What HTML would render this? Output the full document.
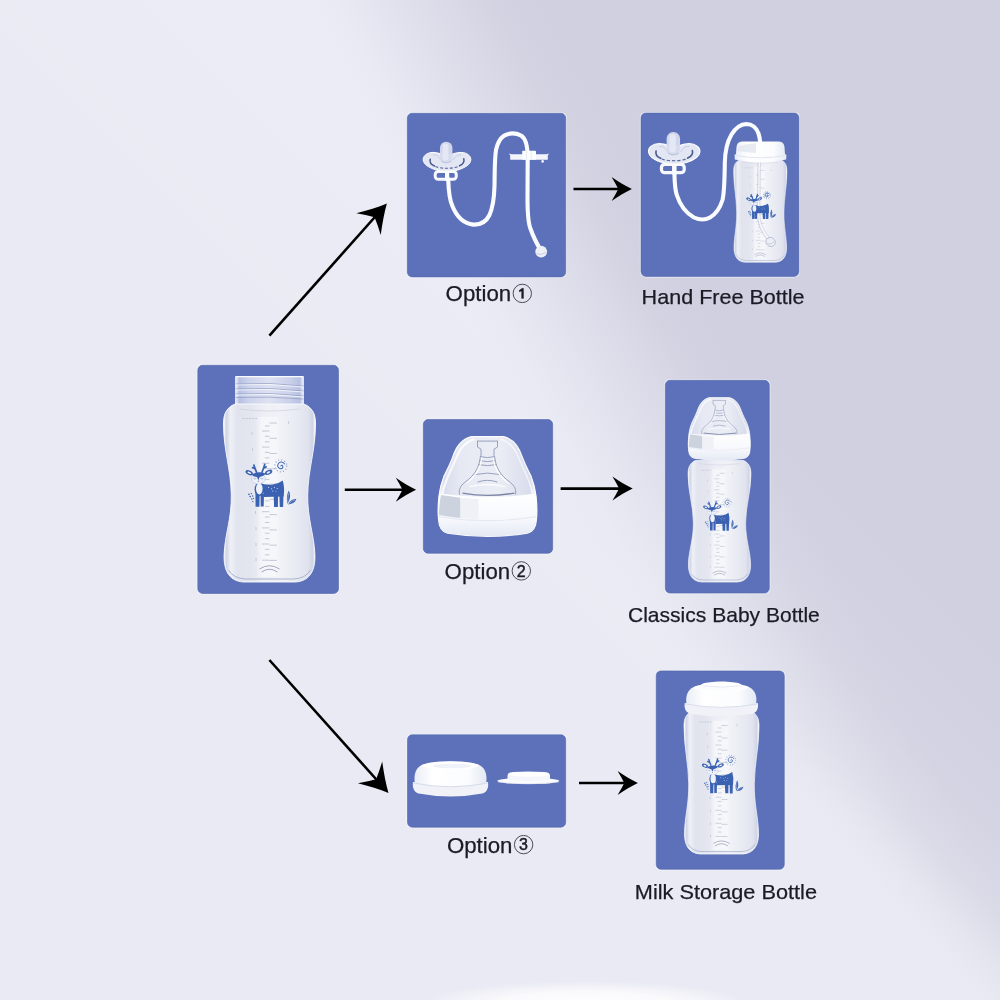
<!DOCTYPE html>
<html>
<head>
<meta charset="utf-8">
<title>Bottle options</title>
<style>
html,body{margin:0;padding:0;width:1000px;height:1000px;overflow:hidden;background:#ebebf5;}
svg{display:block;position:absolute;left:0;top:0;}
text{font-family:"Liberation Sans",sans-serif;fill:#1b1b26;}
</style>
</head>
<body>
<svg width="1000" height="1000" viewBox="0 0 1000 1000">
<defs>
  <linearGradient id="bg1" gradientUnits="userSpaceOnUse" x1="242" y1="-126" x2="423" y2="-220">
    <stop offset="0" stop-color="#ececf6"/>
    <stop offset="0.12" stop-color="#eaeaf5"/>
    <stop offset="0.45" stop-color="#dfdfec"/>
    <stop offset="0.8" stop-color="#d3d3e2"/>
    <stop offset="1" stop-color="#d0d0e0"/>
  </linearGradient>
  <linearGradient id="bg2" gradientUnits="userSpaceOnUse" x1="990" y1="642" x2="792" y2="840">
    <stop offset="0" stop-color="#e9e9f3" stop-opacity="0"/>
    <stop offset="0.45" stop-color="#e9e9f3" stop-opacity="0.14"/>
    <stop offset="0.66" stop-color="#e9e9f3" stop-opacity="0.38"/>
    <stop offset="0.8" stop-color="#ebebf4" stop-opacity="0.72"/>
    <stop offset="0.9" stop-color="#ebebf4" stop-opacity="0.9"/>
    <stop offset="1" stop-color="#eaeaf4" stop-opacity="1"/>
  </linearGradient>
  <radialGradient id="bg3" cx="0.5" cy="0.5" r="0.5">
    <stop offset="0" stop-color="#ffffff" stop-opacity="1"/>
    <stop offset="0.55" stop-color="#ffffff" stop-opacity="0.75"/>
    <stop offset="1" stop-color="#ffffff" stop-opacity="0"/>
  </radialGradient>

  <!-- GLASS GRADIENTS -->
  <linearGradient id="glass" x1="0" y1="0" x2="1" y2="0">
    <stop offset="0" stop-color="#ffffff"/>
    <stop offset="0.03" stop-color="#cfd4e6"/>
    <stop offset="0.075" stop-color="#eef0f6"/>
    <stop offset="0.15" stop-color="#e1e4ee"/>
    <stop offset="0.3" stop-color="#e3e6ef"/>
    <stop offset="0.44" stop-color="#edeff5"/>
    <stop offset="0.62" stop-color="#f0f2f7"/>
    <stop offset="0.8" stop-color="#e8eaf2"/>
    <stop offset="0.92" stop-color="#e0e3ee"/>
    <stop offset="0.97" stop-color="#cfd4e6"/>
    <stop offset="1" stop-color="#ffffff"/>
  </linearGradient>
  <linearGradient id="strip" x1="0" y1="0" x2="1" y2="0">
    <stop offset="0" stop-color="#ffffff" stop-opacity="0"/>
    <stop offset="0.2" stop-color="#ffffff" stop-opacity="0.45"/>
    <stop offset="0.8" stop-color="#ffffff" stop-opacity="0.45"/>
    <stop offset="1" stop-color="#ffffff" stop-opacity="0"/>
  </linearGradient>
  <linearGradient id="neckg" x1="0" y1="0" x2="1" y2="0">
    <stop offset="0" stop-color="#f4f6fc"/>
    <stop offset="0.06" stop-color="#b7c0e2"/>
    <stop offset="0.2" stop-color="#cdd3ec"/>
    <stop offset="0.5" stop-color="#dde1f2"/>
    <stop offset="0.8" stop-color="#cad0ea"/>
    <stop offset="0.94" stop-color="#b7c0e2"/>
    <stop offset="1" stop-color="#f4f6fc"/>
  </linearGradient>
  <!-- DEER (main coords, origin shifted to bottle-local) -->
  <g id="deer" transform="translate(-269.5 -405)">
    <g fill="#3b62b2" stroke="none">
      <ellipse cx="249.200" cy="472.700" rx="3.900" ry="2.200" transform="rotate(24 249.2 472.7)"/>
      <ellipse cx="268.600" cy="472.300" rx="3.900" ry="2.200" transform="rotate(-24 268.6 472.3)"/>
      <ellipse cx="259.300" cy="489.200" rx="4.700" ry="6.800"/>
      <path d="M261.500 483.600 Q267 485.400 273 484.600 Q279 483.600 282.700 480.600 Q285 488 283.600 496.600 L264 497 Z"/>
      <path d="M255.400 492h4.300l-0.300 14.700h-3.800z M260.500 494h3.500l-0.300 12.500h-3z M273.600 494h4.500l-0.200 12.900h-3.800z M279.300 494h4.200l-0.400 13.100h-3.300z"/>
      <path d="M287.600 504 Q285.600 497 288.800 490.600 Q291.800 497 287.600 504Z"/>
      <path d="M288.200 504.400 Q290.500 499.200 296.400 498.800 Q295 503.800 288.200 504.400Z"/>
      <circle cx="249" cy="494.400" r="0.800"/><circle cx="251.400" cy="493.600" r="0.700"/><circle cx="250.200" cy="496.600" r="0.800"/>
      <circle cx="252.600" cy="496" r="0.700"/><circle cx="251.800" cy="499" r="0.800"/><circle cx="253.600" cy="498.400" r="0.600"/><circle cx="252.800" cy="501.600" r="0.700"/>
    </g>
    <g fill="none" stroke="#3b62b2" stroke-width="1.700" stroke-linecap="round">
      <path d="M256.500 472.200 Q254.900 468.500 253.900 465 M255.200 468.600 L252.600 467.600 M262 472.200 Q263.500 468.500 264.700 464.400 M263.600 468.200 L266.200 466.800"/>
    </g>
    <ellipse cx="258.400" cy="478.600" rx="6.900" ry="5.300" fill="#eff1f8" stroke="#a9bce2" stroke-width="0.500"/>
    <path d="M251.600 474.400 Q258.600 470.600 266 473.800 Q263.200 476.600 259.700 477 L258.300 480.200 L257 477 Q253.400 476.800 251.600 474.400Z" fill="#3b62b2"/>
    <g fill="none" stroke="#4b70bb" stroke-width="0.450">
      <path d="M253.300 478.400 q1.500 1.100 3 0 M260.300 478.400 q1.500 1.100 3 0"/>
    </g>
    <circle cx="258.300" cy="481.200" r="0.600" fill="#7b6a9a"/>
    <g fill="none" stroke="#4268b6" stroke-width="1.050">
      <path d="M280.900 466.300 a0.900 0.900 0 0 1 1.300 -1 a2 2 0 0 1 0 3 a3 3 0 0 1 -4.200 -1.200 a3.600 3.600 0 0 1 2.800 -5 a4 4 0 0 1 4 2.200"/>
      <circle cx="280.800" cy="465.800" r="6" stroke-width="1.300" stroke-dasharray="0.700 2.440" opacity="0.800"/>
    </g>
    <g fill="#eff1f8">
      <ellipse cx="249.300" cy="472.800" rx="2" ry="0.900" transform="rotate(24 249.3 472.8)"/>
      <ellipse cx="268.500" cy="472.400" rx="2" ry="0.900" transform="rotate(-24 268.5 472.400)"/>
      <ellipse cx="259.300" cy="488.800" rx="3.300" ry="5.700"/>
      <circle cx="268.600" cy="487.600" r="0.500"/><circle cx="271.600" cy="488.800" r="0.500"/><circle cx="274.400" cy="487.200" r="0.500"/><circle cx="277.200" cy="488.600" r="0.500"/><circle cx="272.800" cy="491" r="0.500"/><circle cx="276" cy="491.200" r="0.450"/>
    </g>
    <path d="M287.800 502 Q287.600 497 288.800 493 M289.500 503.400 Q292 500.600 295 499.600" fill="none" stroke="#dfe5f5" stroke-width="0.450"/>
  </g>
  <!-- SCALE TICKS (bottle-local) -->
  <g id="ticks" stroke="#a9aec2" stroke-width="0.8" fill="none" opacity="0.8">
    <path d="M-7.5 26.0h7.4 M-4.6 31.3h4.6 M-4.6 36.8h4.6 M-7.5 42.1h7.4 M-4.6 47.4h4.6 M-4.6 52.9h4.6 M-7.5 58.3h7.4 M-4.6 63.6h4.6 M-4.6 69.1h4.6 M-7.5 74.4h7.4 M-4.6 79.7h4.6 M-4.6 85.2h4.6 M-7.5 90.6h7.4 M-4.6 95.9h4.6 M-4.6 101.4h4.6 M-7.5 106.7h7.4 M-4.6 112.0h4.6 M-4.6 117.5h4.6 M-7.5 122.9h7.4 M-4.6 128.2h4.6 M-4.6 133.7h4.6 M-7.5 139.0h7.4 M-4.6 144.3h4.6 M-4.6 149.8h4.6 M-7.5 155.2h7.4 M0 18.0h7.4 M0 33.3h7.4 M0 48.5h7.4 M0 63.8h7.4 M0 79.1h7.4 M0 94.3h7.4 M0 109.6h7.4 M0 124.9h7.4 M0 140.2h7.4 M0 155.4h7.4 M-4.6 21.0h4.6"/>
    <path d="M-10 164 Q0 157.500 10 164 M-8 167 Q0 161.500 8 167" stroke="#7f88a6" stroke-width="0.9"/>
    <path d="M-27 13.500h16" stroke-width="1.1" stroke-dasharray="2 1.2" opacity="0.7"/>
    <path d="M-17.5 27v3 M-17 43v3 M-14 106v3 M-13.500 122v3 M-13.500 138v3 M-13.500 153v3 M19 16v3" stroke-width="0.8" opacity="0.8"/>
  </g>
  <!-- BOTTLE BODY only (bottle-local: x center 0, y=0 at neck bottom, body 91 wide x 177 tall) -->
  <g id="bodyin">
    <rect x="-13.500" y="12" width="24.500" height="160" fill="url(#strip)"/>
    <path d="M-41 165 Q-36 173.500 -24 174 L24 174 Q36 173.500 41 165" fill="none" stroke="#8e99bd" stroke-width="0.9" opacity="0.75"/>
    <path d="M-30 4 Q0 8 30 4" fill="none" stroke="#c9cede" stroke-width="0.8" opacity="0.8"/>
    <use href="#ticks"/>
    <use href="#deer"/>
  </g>
  <g id="body">
    <path d="M-34.3 -1 C-39 0.5 -43 4.5 -44.6 9 C-45.6 12 -46 15 -46 19 C-46 45 -38.6 64 -38.2 90 C-37.8 114 -44.8 130 -45.4 150 C-45.8 163 -42 176 -26 177 L26 177 C42 176 45.8 163 45.4 150 C44.8 130 37.8 114 38.2 90 C38.6 64 46 45 46 19 C46 15 45.6 12 44.6 9 C43 4.5 39 0.5 34.3 -1 Z" fill="url(#glass)" stroke="#f9fafd" stroke-width="0.9"/>
    <use href="#bodyin"/>
  </g>
  <g id="bodyM">
    <path d="M-34.3 -1 C-39 0.5 -43 4.5 -44.6 9 C-45.6 12 -46 15 -46 19 C-46 45 -40.6 64 -40.2 90 C-39.8 114 -44.8 130 -45.4 150 C-45.8 163 -42 176 -26 177 L26 177 C42 176 45.8 163 45.4 150 C44.8 130 39.8 114 40.2 90 C40.6 64 46 45 46 19 C46 15 45.6 12 44.6 9 C43 4.5 39 0.5 34.3 -1 Z" fill="url(#glass)" stroke="#f9fafd" stroke-width="0.9"/>
    <use href="#bodyin"/>
  </g>
  <g id="bodyH">
    <path d="M-34.3 -1 C-39 0.5 -43 4.5 -44.6 9 C-45.6 12 -46 15 -46 19 C-46 45 -41.2 64 -40.8 90 C-40.4 114 -44.8 130 -45.4 150 C-45.8 163 -42 176 -26 177 L26 177 C42 176 45.8 163 45.4 150 C44.8 130 40.4 114 40.8 90 C41.2 64 46 45 46 19 C46 15 45.6 12 44.6 9 C43 4.5 39 0.5 34.3 -1 Z" fill="url(#glass)" stroke="#f9fafd" stroke-width="0.9"/>
    <use href="#bodyin"/>
  </g>
  <!-- OPEN NECK -->
  <g id="neck">
    <rect x="-34.4" y="-29" width="68.8" height="30" rx="1.5" fill="url(#neckg)"/>
    <path d="M-34 -28.3h68" stroke="#fff" stroke-width="1.3" opacity="0.9"/>
    <path d="M-34 -21 Q0 -23 34 -19 M-34 -16 Q0 -18 34 -14 M-34 -11 Q0 -13 34 -9 M-34 -7.500 Q0 -9 34 -6" fill="none" stroke="#8f9abf" stroke-width="0.8" opacity="0.85"/>
    <path d="M-34 -20 Q0 -22 34 -18 M-34 -15 Q0 -17 34 -13 M-34 -10 Q0 -12 34 -8" fill="none" stroke="#fff" stroke-width="0.8" opacity="0.9"/>
  </g>

  <!-- WHITE PLASTIC GRADIENTS -->
  <linearGradient id="wv" x1="0" y1="0" x2="0" y2="1">
    <stop offset="0" stop-color="#ffffff"/>
    <stop offset="0.6" stop-color="#f6f8fc"/>
    <stop offset="1" stop-color="#e4e9f3"/>
  </linearGradient>
  <linearGradient id="wh" x1="0" y1="0" x2="1" y2="0">
    <stop offset="0" stop-color="#e9edf6"/>
    <stop offset="0.25" stop-color="#ffffff"/>
    <stop offset="0.75" stop-color="#fbfcfe"/>
    <stop offset="1" stop-color="#e3e8f3"/>
  </linearGradient>
  <linearGradient id="domeg" x1="0" y1="0" x2="1" y2="0">
    <stop offset="0" stop-color="#ffffff"/>
    <stop offset="0.06" stop-color="#d9ddec"/>
    <stop offset="0.22" stop-color="#e6e9f3"/>
    <stop offset="0.6" stop-color="#eceef6"/>
    <stop offset="0.93" stop-color="#d9ddec"/>
    <stop offset="1" stop-color="#ffffff"/>
  </linearGradient>
  <!-- PACIFIER (local: shield center 0,0; 48 wide) -->
  <g id="paci">
    <rect x="-11.800" y="9.500" width="21.100" height="7.800" rx="3" fill="none" stroke="#f7f8fd" stroke-width="3"/>
    <path d="M0.100 8.500v10.500" stroke="#fbfcff" stroke-width="4.200"/>
    <path d="M0 -6 C-4 -7.500 -9 -9.600 -14 -9.600 C-20 -9.600 -24.200 -6 -23.800 -2 C-23.400 2.500 -18 5.500 -12 7.600 C-7 9.200 -3 9.700 0 9.700 C3 9.700 7 9.200 12 7.600 C18 5.500 23.400 2.500 23.800 -2 C24.200 -6 20 -9.600 14 -9.600 C9 -9.600 4 -7.500 0 -6Z" fill="#eef0f8" fill-opacity="0.93" stroke="#ffffff" stroke-width="1"/>
    <path d="M-16.800 -2.800 C-17.600 0.500 -15.500 2.800 -12.500 4 M16.800 -3.200 C17.600 0 15.500 2.500 12.500 3.800" fill="none" stroke="#4a598f" stroke-width="1.500" stroke-linecap="round"/>
    <path d="M-11.500 4.600 C-6 6.800 6 6.800 11.500 4.400" fill="none" stroke="#4a598f" stroke-width="1.100" stroke-dasharray="3 1.800" opacity="0.9"/>
    <path d="M-14 -7 C-10 -7.500 -8 -5 -6 -2 M14 -7 C10 -7.500 8 -5 6 -2" fill="none" stroke="#c3cae0" stroke-width="0.900"/>
    <rect x="-7" y="-20.300" width="12.400" height="21.500" rx="6" fill="#d6dbed" fill-opacity="0.96"/>
    <rect x="-4.500" y="-18.500" width="6" height="17" rx="3" fill="#e6e9f5" fill-opacity="0.9"/>
    <path d="M-6 -1 Q-0.800 2.500 4.500 -1" fill="none" stroke="#b6bed8" stroke-width="0.900"/>
  </g>
  <!-- LID CAP (local: center x 0, top y 0; 75 wide x 37 tall) -->
  <g id="lid">
    <path d="M-37.500 22 C-38.200 27 -37 32 -32 33.500 Q0 39.500 32 33.500 C37 32 38.200 27 37.500 22Z" fill="#f0f2f8"/>
    <path d="M-35.500 24 C-37 16 -35.500 8 -28 4.500 Q0 -1.500 28 4.500 C35.500 8 37 16 35.500 24 Q0 30.500 -35.500 24Z" fill="url(#wh)"/>
    <path d="M-37 23 Q0 30.500 37 23" fill="none" stroke="#d5dbe9" stroke-width="1"/>
    <ellipse cx="0" cy="5.500" rx="28" ry="4.200" fill="#ffffff"/>
    <ellipse cx="1.500" cy="6" rx="19" ry="2.300" fill="#eff2f8"/>
  </g>
  <g id="lidtop">
    <path d="M-22.500 7 C-23 1.500 -19 -0.800 0 -1.200 C19 -0.800 23 1.500 22.500 7 Q0 11 -22.500 7Z" fill="#fbfcfe"/>
    <ellipse cx="0" cy="2.600" rx="20" ry="2.600" fill="#ffffff"/>
    <path d="M-19 3.500 Q0 6.500 19 3.500" fill="none" stroke="#e2e7f1" stroke-width="0.900"/>
  </g>

  <!-- DOME (local: center x 0, top y 0; 98 wide x 100 tall) -->
  <g id="dome">
    <path d="M-16 0 L16 0 C27 2.500 32.500 13 35 21 C38.500 30 41.500 35 43.700 40 C46.500 47 48 54 48.600 60 C49.600 70 49.600 76 49 82 C48.500 91 46 95 40 96.500 Q0 103 -40 96.500 C-46 95 -48.500 91 -49 82 C-49.600 76 -49.600 70 -48.600 60 C-48 54 -46.500 47 -43.700 40 C-41.500 35 -38.500 30 -35 21 C-32.500 13 -27 2.500 -16 0Z" fill="url(#domeg)" stroke="#fafbfe" stroke-width="1.200"/>
    <path d="M-13 2.500 C-25 6 -29 16 -32 23 C-37 35 -43 45 -45 57" fill="none" stroke="#ffffff" stroke-width="2.200" opacity="0.75"/>
    <path d="M13 2.500 C25 6 29 16 32 23 C37 35 43 45 45 57" fill="none" stroke="#ffffff" stroke-width="1.600" opacity="0.6"/>
    <g fill="none" stroke="#8690ae" stroke-width="0.900" opacity="0.9">
      <path d="M-10.500 4.500 h21 M-10 4.500 v6 l3.500 2 v7 M10 4.500 v6 l-3.500 2 v7"/>
      <path d="M-7 20 Q0 22 7 20 M-8 24 Q0 26 8 24 M-9 28 Q0 30 9 28"/>
      <path d="M-7 19.500 C-8.500 31 -12 38 -23 46 C-27 49 -29 53 -28 58"/>
      <path d="M7 19.500 C8.500 31 12 38 23 46 C27 49 29 53 28 58"/>
      <path d="M-13 38 Q0 35 13 38 M-10 45.500 Q0 42 10 45.500"/>
      <path d="M-25 56.500 Q0 61 27 56.500" stroke="#6f7a9e" stroke-width="1.400"/>
    </g>
    <g fill="none" stroke="#ffffff" stroke-width="1.200" opacity="0.9">
      <path d="M-5.500 21 C-7 31 -10.500 38.500 -21.500 47"/>
      <path d="M5.500 21 C7 31 10.500 38.500 21.500 47"/>
      <path d="M-18 50 Q0 46 18 50"/>
    </g>
    <path d="M-47.800 57 Q0 64 47.800 57 C49.600 68 49.600 76 49 82 C48.500 91 46 95 40 96.500 Q0 103 -40 96.500 C-46 95 -48.500 91 -49 82 C-49.600 76 -49.600 68 -47.800 57Z" fill="url(#wv)"/>
    <path d="M-48.800 80 Q0 88 48.800 80" fill="none" stroke="#e6eaf3" stroke-width="1.200"/>
    <path d="M-46.500 58.500 L-27 61.200 L-27 81.500 Q-38 80.500 -48.500 78.500 Q-48.500 68 -46.500 58.500Z" fill="#cdd2df"/>
    <path d="M-27 61.200 L-9 62.500 L-9 83 L-27 81.500Z" fill="#eff1f7"/>
  </g>
  <filter id="noop" x="0" y="0" width="1000" height="1000" filterUnits="userSpaceOnUse"><feOffset dx="0" dy="0"/></filter>
  <!-- ARROWHEAD -->
  <path id="ah" d="M0.3 0 C-6 -3 -13 -7.3 -20 -12 Q-16.3 -6 -13.3 0 Q-16.3 6 -20 12 C-13 7.3 -6 3 0.3 0Z"/>
</defs>

<!-- BACKGROUND -->
<rect width="1000" height="1000" fill="url(#bg1)"/>
<rect width="1000" height="1000" fill="url(#bg2)"/>
<ellipse cx="585" cy="1005" rx="165" ry="24" fill="url(#bg3)"/>

<!-- BOXES -->
<g>
  <rect x="196.7" y="364.2" width="142.9" height="230.4" rx="5.6" fill="#f3f4fc" opacity="0.85"/>
  <rect x="406.2" y="112.2" width="160.6" height="165.8" rx="5.6" fill="#f3f4fc" opacity="0.85"/>
  <rect x="639.9" y="111.9" width="160.1" height="165.6" rx="5.6" fill="#f3f4fc" opacity="0.85"/>
  <rect x="422.2" y="418.4" width="131.6" height="136.0" rx="5.6" fill="#f3f4fc" opacity="0.85"/>
  <rect x="664.2" y="379.2" width="106.2" height="215.0" rx="5.6" fill="#f3f4fc" opacity="0.85"/>
  <rect x="406.4" y="733.7" width="160.4" height="94.6" rx="5.6" fill="#f3f4fc" opacity="0.85"/>
  <rect x="655.1" y="669.8" width="130.3" height="200.6" rx="5.6" fill="#f3f4fc" opacity="0.85"/>
  <rect x="197.8" y="365.3" width="140.7" height="228.2" rx="4.8" fill="#5c71b9" stroke="#5164aa" stroke-width="0.6"/>
  <rect x="407.3" y="113.3" width="158.4" height="163.6" rx="4.8" fill="#5c71b9" stroke="#5164aa" stroke-width="0.6"/>
  <rect x="641.0" y="113.0" width="157.9" height="163.4" rx="4.8" fill="#5c71b9" stroke="#5164aa" stroke-width="0.6"/>
  <rect x="423.3" y="419.5" width="129.4" height="133.8" rx="4.8" fill="#5c71b9" stroke="#5164aa" stroke-width="0.6"/>
  <rect x="665.3" y="380.3" width="104.0" height="212.8" rx="4.8" fill="#5c71b9" stroke="#5164aa" stroke-width="0.6"/>
  <rect x="407.5" y="734.8" width="158.2" height="92.4" rx="4.8" fill="#5c71b9" stroke="#5164aa" stroke-width="0.6"/>
  <rect x="656.2" y="670.9" width="128.1" height="198.4" rx="4.8" fill="#5c71b9" stroke="#5164aa" stroke-width="0.6"/>
</g>

<!-- ARROWS -->
<g id="arrows" stroke="#000" stroke-width="2.6" fill="#000">
  <line x1="269.4" y1="335.6" x2="375.8" y2="216"/>
  <line x1="269.4" y1="660" x2="377.3" y2="780.5"/>
  <line x1="344.8" y1="489.8" x2="405" y2="489.8"/>
  <line x1="573.5" y1="189" x2="620" y2="189"/>
  <line x1="560.6" y1="488.6" x2="621" y2="488.6"/>
  <line x1="579" y1="783" x2="626" y2="783"/>
  <g stroke="none">
    <use href="#ah" transform="translate(386.6 203.8) rotate(-48.4) scale(1.36)"/>
    <use href="#ah" transform="translate(388.2 792.6) rotate(48.15) scale(1.36)"/>
    <use href="#ah" transform="translate(415.8 489.8)"/>
    <use href="#ah" transform="translate(631.6 189)"/>
    <use href="#ah" transform="translate(632.4 488.6)"/>
    <use href="#ah" transform="translate(637.6 783)"/>
  </g>
</g>

<!-- OBJECTS -->
<g id="objects">
  <!-- main bottle -->
  <g transform="translate(269.5 405)"><use href="#neck"/><use href="#body"/></g>
  <!-- hand free bottle body -->
  <g transform="translate(760.3 160) scale(0.579 0.578)"><use href="#bodyH"/></g>
  <!-- classics bottle body -->
  <g transform="translate(719.5 461) scale(0.684)"><use href="#body"/></g>
  <!-- milk storage bottle body -->
  <g transform="translate(721.5 711) scale(0.815 0.808)"><use href="#bodyM"/></g>

  <!-- OPTION 1: pacifier + tube + clip -->
  <g>
    <path d="M448.200 179 C448.600 192 449.500 200 452.400 206 C456 215 463 223.500 473.400 224.600 C482 225 487 220 489.500 215 C493 207 494.200 198 494.500 186 C494.800 170 494.500 160 496 150 C497.500 143 500 138.500 504 135.800 C509 132.500 516 132.800 521 135.500 C526 138.500 527.500 146 527.700 156 L527.500 200 C527.600 215 528.500 225 531 230 C533 236 536 242 540 249" fill="none" stroke="#fbfcff" stroke-width="4.100" stroke-linecap="round"/>
    <circle cx="541.200" cy="251.600" r="5.900" fill="#eef0f6"/>
    <path d="M536.500 253.500 Q541 256 546 252.500" fill="none" stroke="#c3cadf" stroke-width="0.9"/>
    <path d="M509 153.600 l2.500 0.600 h35 l2.500 -0.600 l-1.200 1.800 v4.400 h-37.600 v-4.400z" fill="#f3f5fb"/>
    <rect x="522.200" y="150.800" width="13.800" height="9" rx="0.800" fill="#fcfdff"/>
    <path d="M526.400 151v8.800 M531.200 151v8.800" stroke="#dfe3ee" stroke-width="0.700"/>
    <circle cx="542.600" cy="161.400" r="1.300" fill="#f7f8fc"/>
    <use href="#paci" transform="translate(447 162)"/>
  </g>
  <!-- HAND FREE: pacifier + tube + cap -->
  <g>
    <path d="M759.200 161 L758.600 214 Q758.800 227 768 238" fill="none" stroke="#f6f7fc" stroke-width="1.500" opacity="0.95"/>
    <path d="M758 161 L757.400 214 Q757.600 228 766.800 239" fill="none" stroke="#a3abc6" stroke-width="0.500" opacity="0.9"/>
    <path d="M760.400 161 L759.800 214 Q760 226 769 237" fill="none" stroke="#a3abc6" stroke-width="0.500" opacity="0.7"/>
    <ellipse cx="770.600" cy="242" rx="4.800" ry="4.400" fill="#eceef5" stroke="#aab1c8" stroke-width="0.700" transform="rotate(35 770.6 242)"/>
    <path d="M767.500 243.500 Q771 245.500 774 241.500" fill="none" stroke="#b9bfd3" stroke-width="0.700"/>
    <g transform="translate(760.300 160) scale(0.579 0.578)"><use href="#deer"/></g>
    <path d="M674.400 173 C674.600 183 675 190 676.800 195 C680 205 686 213 694 217.500 C699.500 220 705.500 220 710 217.500 C716 214 720 208 722.500 200 C724.500 192 724.600 180 724.800 163 C725 152 727 142 731.500 134.500 C735.500 128 741 124.200 746.400 124 C752 124 756.500 128 758.500 133.500 C759.500 136.500 760 139 760.200 142.500" fill="none" stroke="#fbfcff" stroke-width="4.100" stroke-linecap="round"/>
    <path d="M736.500 147 Q737 141.800 742 141.500 L779 141.500 Q784 141.800 784.500 147 L785 154 L786.400 155 L786.200 159.500 Q761 165.500 734.800 159.500 L734.600 155 L736 154Z" fill="url(#wh)"/>
    <path d="M734.800 155.200 Q761 160.500 786.200 155.200" fill="none" stroke="#dde2ee" stroke-width="0.900"/>
    <path d="M738 147 Q745 143.500 756 143.500 L756 153 Q746 152.500 738 151Z" fill="#dfe3ec" opacity="0.7"/>
    <use href="#paci" transform="translate(674.200 154) scale(1.08)"/>
  </g>
  <!-- OPTION 2: dome -->
  <g transform="translate(487.500 436.600)"><use href="#dome"/></g>
  <!-- CLASSICS: dome on top -->
  <g transform="translate(719.300 397.600) scale(0.628)"><use href="#dome"/></g>
  <!-- OPTION 3: lid + disk -->
  <g transform="translate(450.500 760)"><use href="#lid"/></g>
  <g>
    <ellipse cx="528.300" cy="780.900" rx="31" ry="3.200" fill="#fbfcfe"/>
    <path d="M507.500 779.500 L507.500 775.500 Q507.500 772.400 513 772 Q528 770.800 544 772 Q550 772.400 550 775.500 L550 779.500 Q528 782.500 507.500 779.500Z" fill="#f4f6fb"/>
    <ellipse cx="528.700" cy="774.300" rx="20.500" ry="2.300" fill="#ffffff"/>
    <path d="M498 782 Q528 785.500 558.500 782" fill="none" stroke="#e3e7f1" stroke-width="0.700"/>
  </g>
  <!-- MILK STORAGE: lid -->
  <g transform="translate(721.300 682.500) scale(0.975 0.93)"><use href="#lid"/><use href="#lidtop"/></g>
</g>

<!-- LABELS -->
<g id="labels" font-size="21" stroke="#1b1b26" stroke-width="0.25" filter="url(#noop)">
  <text x="445.6" y="301.4" textLength="65.6" font-size="21.4" lengthAdjust="spacingAndGlyphs">Option</text>
  <text x="444.6" y="578.9" textLength="65.6" font-size="21.4" lengthAdjust="spacingAndGlyphs">Option</text>
  <text x="446.9" y="852.6" textLength="65.6" font-size="21.4" lengthAdjust="spacingAndGlyphs">Option</text>
  <text x="641.6" y="304" textLength="163" lengthAdjust="spacingAndGlyphs">Hand Free Bottle</text>
  <text x="628" y="621.5" textLength="191.8" lengthAdjust="spacingAndGlyphs">Classics Baby Bottle</text>
  <text x="634.8" y="898.8" textLength="182.2" lengthAdjust="spacingAndGlyphs">Milk Storage Bottle</text>
  <g fill="none" stroke="#3a3a46" stroke-width="0.9">
    <circle cx="522.3" cy="293.4" r="9.2"/>
    <circle cx="521.3" cy="570.9" r="9.2"/>
    <circle cx="523.6" cy="844.6" r="9.2"/>
  </g>
  <g font-size="16" text-anchor="middle" stroke="#1b1b26" stroke-width="0.45">
    <path d="M523.6 288.3 L523.6 298.6 L521.5 298.6 L521.5 290.9 L519.5 292.1 L519 290.5 L522 288.3 Z" fill="#1b1b26" stroke-width="0.2"/>
    <text x="521.3" y="576.6">2</text>
    <text x="523.5" y="850.3">3</text>
  </g>
</g>
</svg>
</body>
</html>
